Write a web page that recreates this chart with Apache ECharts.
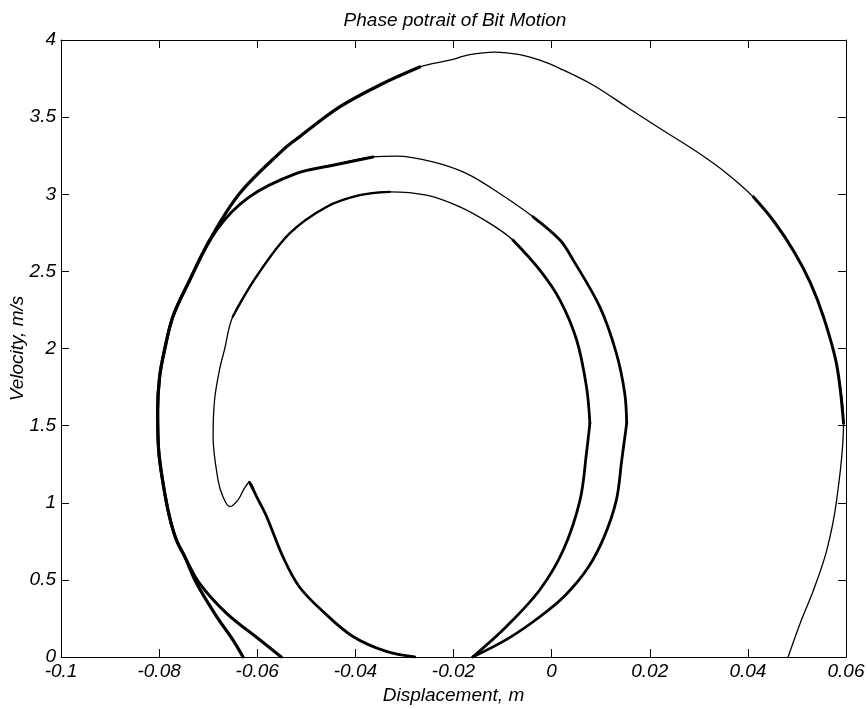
<!DOCTYPE html>
<html>
<head>
<meta charset="utf-8">
<script src="https://cdn.jsdelivr.net/npm/echarts@6/dist/echarts.min.js"></script>
<style>
  html, body { margin: 0; padding: 0; background: #fff; }
  #chart { width: 867px; height: 709px; }
</style>
</head>
<body>
<div id="chart"></div>
<script>
// tick values
const xTicks = [-0.1, -0.08, -0.06, -0.04, -0.02, 0, 0.02, 0.04, 0.06];
const yTicks = [0, 0.5, 1, 1.5, 2, 2.5, 3, 3.5, 4];

// outer loop (displacement m, velocity m/s)
const outerPath = [
    [-0.0629, 0], [-0.0650, 0.112], [-0.0683, 0.263], [-0.0724, 0.479], [-0.0748, 0.652],
    [-0.0765, 0.760], [-0.0779, 0.911], [-0.0792, 1.127], [-0.0801, 1.343], [-0.0803, 1.600],
    [-0.0799, 1.817], [-0.0789, 1.990], [-0.0772, 2.206], [-0.0741, 2.422], [-0.0697, 2.703],
    [-0.0636, 3.005], [-0.0548, 3.286], [-0.0514, 3.372], [-0.0432, 3.566], [-0.0344, 3.718],
    [-0.0269, 3.825], [-0.0208, 3.869], [-0.0167, 3.905], [-0.0116, 3.922], [-0.0065, 3.905],
    [-0.0024, 3.869], [0.0017, 3.815], [0.0085, 3.707], [0.0153, 3.566], [0.0221, 3.426],
    [0.0296, 3.275], [0.0357, 3.135], [0.0411, 2.983], [0.0454, 2.820], [0.0495, 2.623],
    [0.0527, 2.429], [0.0554, 2.206], [0.0581, 1.894], [0.0595, 1.516], [0.0581, 1.019],
    [0.0561, 0.695], [0.0534, 0.436], [0.0508, 0.230], [0.0482, 0],
];

// middle loop, split at its corner on the right
const midPath = [
    [-0.0551, 0], [-0.0595, 0.112], [-0.0663, 0.285], [-0.0718, 0.479], [-0.0748, 0.652],
    [-0.0765, 0.760], [-0.0779, 0.911], [-0.0792, 1.127], [-0.0801, 1.343], [-0.0803, 1.600],
    [-0.0799, 1.817], [-0.0789, 1.990], [-0.0772, 2.206], [-0.0741, 2.422], [-0.0683, 2.767],
    [-0.0616, 2.983], [-0.0520, 3.135], [-0.0446, 3.188], [-0.0364, 3.242], [-0.0316, 3.247],
    [-0.0242, 3.210], [-0.0174, 3.135], [-0.0106, 3.005], [-0.0038, 2.854], [0.0017, 2.703],
    [0.0044, 2.573], [0.0098, 2.271], [0.0132, 1.969], [0.0149, 1.710], [0.0153, 1.515],
];
const midDown = [
    [0.0153, 1.515], [0.0143, 1.278], [0.0132, 1.019], [0.0107, 0.779], [0.0074, 0.578],
    [0.0029, 0.404], [-0.0024, 0.261], [-0.0089, 0.119], [-0.0161, 0],
];

// inner loop with the dip, split at its corner on the right
const innerPath = [
    [-0.0279, 0], [-0.0337, 0.036], [-0.0405, 0.133], [-0.0461, 0.280], [-0.0514, 0.454],
    [-0.0548, 0.652], [-0.0581, 0.911], [-0.0599, 1.025], [-0.0616, 1.133], [-0.0626, 1.095],
    [-0.0639, 1.019], [-0.0656, 0.975], [-0.0670, 1.040], [-0.0680, 1.148], [-0.0690, 1.429],
    [-0.0687, 1.666], [-0.0677, 1.861], [-0.0667, 1.990], [-0.0650, 2.206], [-0.0602, 2.465],
    [-0.0534, 2.746], [-0.0459, 2.918], [-0.0391, 2.994], [-0.0330, 3.016], [-0.0255, 2.994],
    [-0.0187, 2.918], [-0.0126, 2.811], [-0.0079, 2.703], [-0.0024, 2.508], [0.0017, 2.314],
    [0.0051, 2.055], [0.0071, 1.753], [0.0078, 1.516],
];
const innerDown = [
    [0.0078, 1.516], [0.0071, 1.321], [0.0058, 1.019], [0.0024, 0.695], [-0.0024, 0.436],
    [-0.0092, 0.198], [-0.0161, 0],
];

// [path, first index, last index, width]: where several passes overlap the trace looks heavier
const strokes = [
    [outerPath, 0, outerPath.length - 1, 1.3],
    [outerPath, 0, 20, 3.2],
    [outerPath, 32, 38, 3],
    [midPath, 0, midPath.length - 1, 1.3],
    [midPath, 0, 18, 3],
    [midPath, 23, midPath.length - 1, 2.8],
    [midDown, 0, midDown.length - 1, 2.8],
    [innerPath, 0, innerPath.length - 1, 1.3],
    [innerPath, 0, 8, 2.8],
    [innerPath, 18, 23, 2.3],
    [innerPath, 27, innerPath.length - 1, 2.8],
    [innerDown, 0, innerDown.length - 1, 2.8],
];

const font = {
    fontFamily: "Liberation Sans, Arial, sans-serif",
    fontStyle: "italic",
    fontSize: 19,
    color: "#000",
};

const axisCommon = {
    type: "value",
    axisLine: { show: true, onZero: false, lineStyle: { color: "#000", width: 1 } },
    axisTick: { show: true, inside: true, length: 8, lineStyle: { color: "#000" } },
    splitLine: { show: false },
};

const chart = echarts.init(document.getElementById("chart"));
chart.setOption({
    animation: false,
    backgroundColor: "#fff",
    title: {
        text: "Phase potrait of Bit Motion",
        left: 450,
        top: 6,
        textAlign: "center",
        textStyle: { ...font, fontWeight: "normal", fontSize: 19 },
    },
    grid: { left: 61, right: 21, top: 40, bottom: 52, outerBoundsMode: "none" },
    xAxis: [
        {
            ...axisCommon,
            position: "bottom",
            min: xTicks[0],
            max: xTicks[xTicks.length - 1],
            interval: 0.02,
            axisLabel: { ...font, margin: 5 },
            name: "Displacement, m",
            nameLocation: "middle",
            nameGap: 28,
            nameTextStyle: { ...font, fontSize: 19 },
        },
        {
            ...axisCommon,
            position: "top",
            min: xTicks[0],
            max: xTicks[xTicks.length - 1],
            interval: 0.02,
            axisLabel: { show: false },
        },
    ],
    yAxis: [
        {
            ...axisCommon,
            position: "left",
            min: yTicks[0],
            max: yTicks[yTicks.length - 1],
            interval: 0.5,
            axisLabel: { ...font, margin: 5 },
            name: "Velocity, m/s",
            nameLocation: "middle",
            nameGap: 34,
            nameMoveOverlap: false,
            nameTextStyle: { ...font, fontSize: 19 },
        },
        {
            ...axisCommon,
            position: "right",
            min: yTicks[0],
            max: yTicks[yTicks.length - 1],
            interval: 0.5,
            axisLabel: { show: false },
        },
    ],
    series: strokes.map(([path, from, to, width]) => ({
        type: "line",
        data: path.slice(from, to + 1),
        showSymbol: false,
        smooth: 0.35,
        lineStyle: { color: "#000", width: width, join: "round", cap: "round" },
        itemStyle: { color: "#000" },
        silent: true,
        xAxisIndex: 0,
        yAxisIndex: 0,
    })),
});
</script>
</body>
</html>
